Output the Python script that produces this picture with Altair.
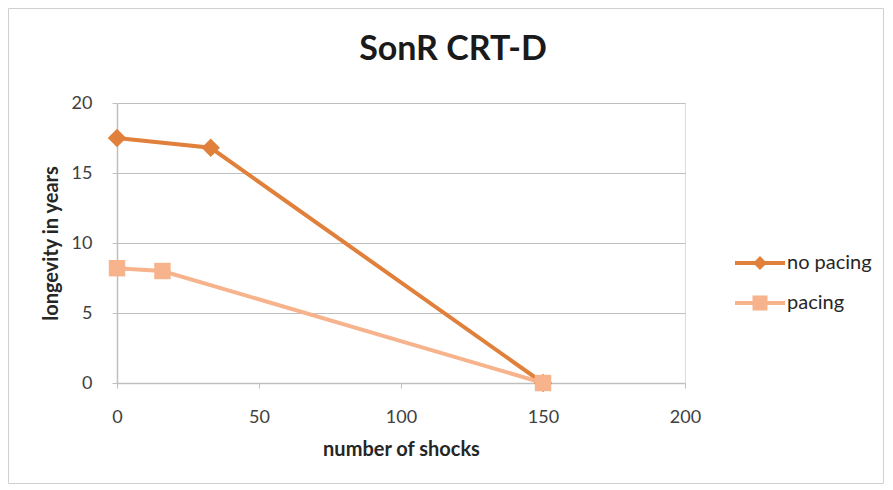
import altair as alt
import pandas as pd

# data
series_names = ["no pacing", "pacing"]
series_colors = ["#E0803A", "#F6B38C"]
no_pacing_shocks = [0, 33, 150]
no_pacing_years = [17.5, 16.8, 0]
pacing_shocks = [0, 16, 150]
pacing_years = [8.2, 8.0, 0]
x_ticks = [0, 50, 100, 150, 200]
y_ticks = [0, 5, 10, 15, 20]
chart_title = "SonR CRT-D"

df = pd.DataFrame({
    "series": ["no pacing"] * len(no_pacing_shocks) + ["pacing"] * len(pacing_shocks),
    "shocks": no_pacing_shocks + pacing_shocks,
    "years": no_pacing_years + pacing_years,
    "order": list(range(len(no_pacing_shocks))) + list(range(len(pacing_shocks))),
})

FONT = "Lato"
W, H = 568, 280
PL, PT, PR, PB = 109, 95, 200, 102

color_scale = alt.Scale(domain=series_names, range=series_colors)

x_enc = alt.X(
    "shocks:Q",
    scale=alt.Scale(domain=[0, 200], nice=False),
    axis=alt.Axis(
        values=x_ticks, title="number of shocks", grid=False, labelFlush=False,
        domainColor="#BFBFBF", domainWidth=1.5, tickColor="#BFBFBF", tickSize=5,
        labelFont=FONT, labelFontSize=18, labelColor="#404040", labelPadding=20,
        titleFont=FONT, titleFontSize=20, titleFontWeight="bold", titleColor="#262626",
        titlePadding=13,
    ),
)
y_enc = alt.Y(
    "years:Q",
    scale=alt.Scale(domain=[0, 20], nice=False),
    axis=alt.Axis(
        values=y_ticks, title="longevity in years", grid=True, labelFlush=False,
        gridColor="#BFBFBF", gridWidth=1.2,
        domainColor="#BFBFBF", domainWidth=1.5, tickColor="#BFBFBF", tickSize=5,
        labelFont=FONT, labelFontSize=18, labelColor="#404040", labelPadding=20,
        titleFont=FONT, titleFontSize=20, titleFontWeight="bold", titleColor="#262626",
        titlePadding=10,
    ),
)

base = alt.Chart(df)

lines = base.mark_line(strokeWidth=4).encode(
    x=x_enc, y=y_enc,
    color=alt.Color("series:N", scale=color_scale, legend=None),
    order="order:Q",
)

diamonds = base.transform_filter(alt.datum.series == "no pacing").mark_point(
    shape="diamond", filled=True, size=340, opacity=1
).encode(
    x="shocks:Q", y="years:Q",
    color=alt.Color("series:N", scale=color_scale, legend=None),
)

squares = base.transform_filter(alt.datum.series == "pacing").mark_point(
    shape="square", filled=True, size=270, opacity=1
).encode(
    x="shocks:Q", y="years:Q",
    color=alt.Color("series:N", scale=color_scale, legend=None),
)

legend_paths = [
    "M-5,-0.4H5V0.4H-5Z M0,-1.4L1.4,0L0,1.4L-1.4,0Z",
    "M-5,-0.4H5V0.4H-5Z M-1.5,-1.5H1.5V1.5H-1.5Z",
]

legend_props = dict(
    title=None, orient="none", legendX=633, legendY=150,
    symbolSize=100, symbolOpacity=1, symbolStrokeWidth=0,
    labelFont=FONT, labelFontSize=20, labelColor="#262626",
    labelOffset=17, rowPadding=20,
)

legend_layer = base.mark_point(filled=True, opacity=0).encode(
    x="shocks:Q", y="years:Q",
    color=alt.Color("series:N", scale=color_scale, legend=alt.Legend(**legend_props)),
    shape=alt.Shape(
        "series:N",
        scale=alt.Scale(domain=series_names, range=legend_paths),
        legend=alt.Legend(**legend_props),
    ),
)

title_layer = alt.Chart(pd.DataFrame({"t": [chart_title]})).mark_text(
    font=FONT, fontSize=34, fontWeight="bold", color="#1A1A1A",
    align="center", baseline="middle",
).encode(text="t:N", x=alt.value(336), y=alt.value(-53))

border = alt.Chart(pd.DataFrame({"k": [0]})).mark_rect(
    fill="white", fillOpacity=0, stroke="#D0D0D0", strokeWidth=1
).encode(
    x=alt.value(-PL + 0.5), x2=alt.value(W + PR - 1.5),
    y=alt.value(-PT + 0.5), y2=alt.value(H + PB - 1.5),
)

chart = alt.layer(border, title_layer, lines, diamonds, squares, legend_layer).properties(
    width=W, height=H,
    autosize=alt.AutoSizeParams(type="none"),
    padding={"left": PL, "top": PT, "right": PR, "bottom": PB},
).resolve_legend(color="independent", shape="independent").configure_view(
    stroke=None
).configure(background="white")

chart.save("out.html", embed_options={"renderer": "svg", "actions": False})
